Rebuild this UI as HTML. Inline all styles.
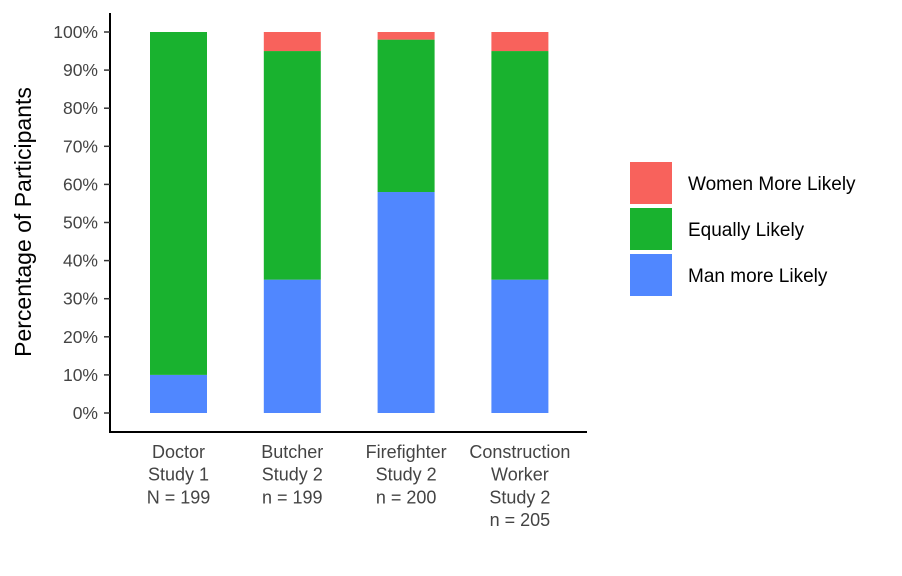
<!DOCTYPE html>
<html><head><meta charset="utf-8"><style>
body{margin:0;background:#fff;}
svg{display:block;font-family:"Liberation Sans",sans-serif;}
</style></head><body>
<svg id="chart" width="902" height="576">
<g id="bars"></g>
<g id="yaxis"></g>
<g id="xaxis"></g>
<text x="31" y="222" transform="rotate(-90 31 222)" text-anchor="middle" font-size="23" fill="#000">Percentage of Participants</text>
<g>
<rect x="630" y="162" width="42" height="42" fill="#F8625C"/>
<rect x="630" y="208" width="42" height="42" fill="#19B22F"/>
<rect x="630" y="254" width="42" height="42" fill="#5087FF"/>
<text x="688" y="190" font-size="19">Women More Likely</text>
<text x="688" y="236" font-size="19">Equally Likely</text>
<text x="688" y="282" font-size="19">Man more Likely</text>
</g>
</svg>
<script>
const categories=[["Doctor","Study 1","N = 199"],["Butcher","Study 2","n = 199"],["Firefighter","Study 2","n = 200"],["Construction","Worker","Study 2","n = 205"]];
const manMore=[10,35,58,35];
const equally=[90,60,40,60];
const womenMore=[0,5,2,5];
const yTicks=[0,10,20,30,40,50,60,70,80,90,100];
const NS="http://www.w3.org/2000/svg";
const y=v=>413-v*3.81;
const xc=i=>178.5+i*113.8;
const bw=57;
function mk(tag,attrs,parent){const e=document.createElementNS(NS,tag);for(const k in attrs)e.setAttribute(k,attrs[k]);parent.appendChild(e);return e;}
const bars=document.getElementById('bars'),ya=document.getElementById('yaxis'),xa=document.getElementById('xaxis');
const series=[[manMore,"#5087FF","man"],[equally,"#19B22F","equal"],[womenMore,"#F8625C","women"]];
categories.forEach((c,i)=>{
  let base=0;
  series.forEach(([arr,col,nm])=>{
    const v=arr[i];
    const r=mk('rect',{x:xc(i)-bw/2,y:y(base+v),width:bw,height:v*3.81,fill:col},bars);
    
    
    base+=v;
  });
  c.forEach((line,j)=>{
    const t=mk('text',{x:xc(i),y:458+j*22.7,'text-anchor':'middle','font-size':18,fill:'#444'},xa);
    t.textContent=line;
    
    
  });
});
const yl=mk('line',{x1:110,y1:13,x2:110,y2:433,stroke:'#000','stroke-width':2},ya);


const xl=mk('line',{x1:109,y1:432,x2:587,y2:432,stroke:'#000','stroke-width':2},xa);


yTicks.forEach(v=>{
  const tk=mk('line',{x1:104,y1:y(v),x2:110,y2:y(v),stroke:'#333','stroke-width':1.5},ya);
  
  
  const t=mk('text',{x:98,y:y(v)+6,'text-anchor':'end','font-size':17.5,fill:'#444'},ya);
  t.textContent=v+'%';
  
  
});
</script>
</body></html>
